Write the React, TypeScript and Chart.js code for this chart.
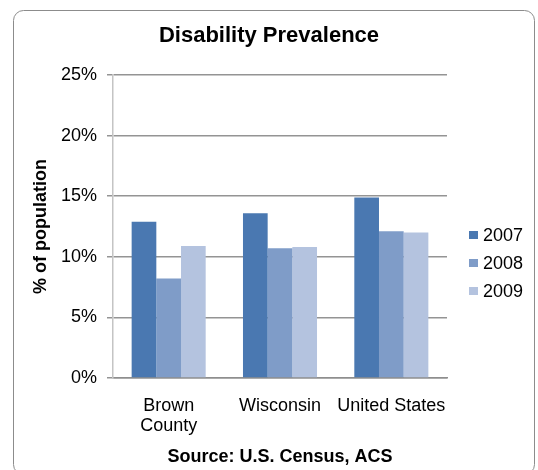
import React, { useEffect, useRef } from 'react';
import { Chart, registerables } from 'chart.js';

Chart.register(...registerables);

const chartTitle = 'Disability Prevalence';
const yAxisTitle = '% of population';
const sourceNote = 'Source: U.S. Census, ACS';
const categories: (string | string[])[] = [['Brown', 'County'], 'Wisconsin', 'United States'];
const seriesLabels = ['2007', '2008', '2009'];
const values2007 = [12.9, 13.6, 14.9];
const values2008 = [8.2, 10.7, 12.1];
const values2009 = [10.9, 10.8, 12.0];
const seriesColors = ['#4A78B1', '#7F9CC8', '#B4C3DF'];
const yMin = 0;
const yMax = 25;
const yStep = 5;

const FONT = '"Liberation Sans", Arial, sans-serif';

const chromePlugin = {
  id: 'excelChrome',
  beforeDraw(chart: any) {
    const ctx = chart.ctx as CanvasRenderingContext2D;
    ctx.save();
    ctx.fillStyle = '#ffffff';
    ctx.fillRect(0, 0, chart.width, chart.height);
    ctx.beginPath();
    ctx.roundRect(13.5, 10.5, 521, 464, 10);
    ctx.strokeStyle = '#8C8C8C';
    ctx.lineWidth = 1;
    ctx.stroke();
    ctx.restore();
  },
  afterDraw(chart: any) {
    const ctx = chart.ctx as CanvasRenderingContext2D;
    ctx.save();
    ctx.fillStyle = '#000000';
    ctx.font = `bold 22px ${FONT}`;
    ctx.textAlign = 'center';
    ctx.textBaseline = 'middle';
    ctx.fillText(chartTitle, chart.width / 2, 36);

    const area = chart.chartArea;
    const boxX = area.right + 22;
    const textX = area.right + 36;
    const firstY = 235;
    const spacing = 28;
    ctx.font = `18px ${FONT}`;
    ctx.textAlign = 'left';
    chart.data.datasets.forEach((ds: any, i: number) => {
      const y = firstY + i * spacing;
      ctx.fillStyle = ds.backgroundColor;
      ctx.fillRect(boxX, y - 4, 9, 8);
      ctx.fillStyle = '#000000';
      ctx.fillText(ds.label, textX, y + 1);
    });
    ctx.restore();
  },
};

export default function App() {
  const canvasRef = useRef<HTMLCanvasElement | null>(null);

  useEffect(() => {
    if (!canvasRef.current) return;
    const seriesValues = [values2007, values2008, values2009];
    const chart = new Chart(canvasRef.current, {
      type: 'bar',
      data: {
        labels: categories,
        datasets: seriesLabels.map((label, i) => ({
          label,
          data: seriesValues[i],
          backgroundColor: seriesColors[i],
          borderWidth: 0,
          categoryPercentage: 0.665,
          barPercentage: 1.0,
        })),
      },
      options: {
        responsive: false,
        animation: false,
        layout: { padding: { left: 0, right: 91, top: 75, bottom: 0 } },
        plugins: {
          legend: { display: false },
          title: { display: false },
          tooltip: { enabled: false },
        },
        scales: {
          x: {
            offset: true,
            grid: { display: false, drawTicks: false },
            border: { display: true, color: '#8E8E8E', width: 1.5 },
            ticks: {
              color: '#000000',
              font: { family: FONT, size: 18, lineHeight: 1.1 },
              padding: 18,
              maxRotation: 0,
              autoSkip: false,
            },
            title: {
              display: true,
              text: sourceNote,
              color: '#000000',
              font: { family: FONT, size: 18, weight: 'bold', lineHeight: 1.2 },
              padding: { top: 0, bottom: 2 },
            },
            afterFit: (scale: any) => {
              scale.height = 92;
            },
          },
          y: {
            min: yMin,
            max: yMax,
            ticks: {
              stepSize: yStep,
              color: '#000000',
              font: { family: FONT, size: 18 },
              padding: 10,
              callback: (v: any) => `${v}%`,
            },
            grid: { color: '#949494', lineWidth: 1.5, tickLength: 6, drawTicks: true },
            border: { display: true, color: '#C4C4C4', width: 1.5 },
            title: {
              display: true,
              text: yAxisTitle,
              color: '#000000',
              font: { family: FONT, size: 18, weight: 'bold', lineHeight: 1.2 },
              padding: { top: 30, bottom: 0 },
            },
            afterFit: (scale: any) => {
              scale.width = 113;
            },
          },
        },
      },
      plugins: [chromePlugin],
    });
    return () => chart.destroy();
  }, []);

  return (
    <div style={{ position: 'fixed', left: 0, top: 0, width: 538, height: 470 }}>
      <canvas ref={canvasRef} width={538} height={470} style={{ display: 'block' }} />
    </div>
  );
}
